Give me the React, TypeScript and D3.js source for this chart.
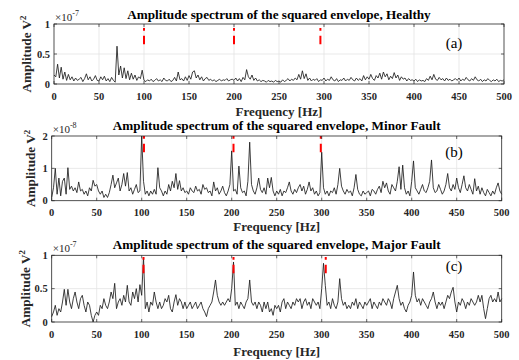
import React from "react";
import * as d3 from "d3";

// ---- data (frequency step 2 Hz, 0..500 Hz) ----
const FREQ_STEP = 2;
const xTickValues = [0, 50, 100, 150, 200, 250, 300, 350, 400, 450, 500];

const titles = [
  "Amplitude spectrum of the squared envelope, Healthy",
  "Amplitude spectrum of the squared envelope, Minor Fault",
  "Amplitude spectrum of the squared envelope, Major Fault",
];
const panelTags = ["(a)", "(b)", "(c)"];
const exponents = ["-7", "-8", "-7"];

const healthyTicks = [0, 0.5, 1];
const minorTicks = [0, 1, 2];
const majorTicks = [0, 0.5, 1];

// amplitude x 1e-7
const healthy = [
  0.15, 0.12, 0.33, 0.1, 0.28, 0.08, 0.2, 0.06, 0.16, 0.07, 0.12, 0.05, 0.1, 0.06, 0.08, 0.11, 0.04, 0.09, 0.17, 0.07, 0.12, 0.05, 0.08, 0.14, 0.06,
  0.05, 0.12, 0.07, 0.13, 0.05, 0.09, 0.04, 0.11, 0.06, 0.03, 0.63, 0.15, 0.3, 0.1, 0.27, 0.09, 0.22, 0.07, 0.18, 0.08, 0.15, 0.06, 0.12, 0.09, 0.23,
  0.06, 0.04, 0.07, 0.05, 0.08, 0.04, 0.06, 0.09, 0.05, 0.07, 0.04, 0.1, 0.06, 0.05, 0.08, 0.04, 0.06, 0.11, 0.05, 0.2, 0.07, 0.09, 0.05, 0.12, 0.06,
  0.14, 0.08, 0.2, 0.22, 0.1, 0.15, 0.07, 0.12, 0.05, 0.09, 0.11, 0.06, 0.08, 0.05, 0.07, 0.04, 0.06, 0.08, 0.05, 0.07, 0.06, 0.09, 0.05, 0.07, 0.08,
  0.06, 0.1, 0.05, 0.09, 0.04, 0.11, 0.07, 0.24, 0.12, 0.08, 0.15, 0.06, 0.1, 0.05, 0.07, 0.04, 0.06, 0.05, 0.03, 0.06, 0.04, 0.05, 0.03, 0.06, 0.04,
  0.05, 0.03, 0.07, 0.04, 0.06, 0.09, 0.05, 0.08, 0.06, 0.1, 0.07, 0.16, 0.08, 0.22, 0.09, 0.17, 0.06, 0.1, 0.05, 0.08, 0.06, 0.09, 0.04, 0.07, 0.06,
  0.1, 0.05, 0.08, 0.06, 0.12, 0.07, 0.05, 0.09, 0.04, 0.07, 0.06, 0.1, 0.05, 0.08, 0.06, 0.11, 0.07, 0.05, 0.1, 0.06, 0.09, 0.05, 0.14, 0.07, 0.12,
  0.08, 0.16, 0.09, 0.06, 0.14, 0.1, 0.18, 0.08, 0.2, 0.12, 0.17, 0.07, 0.13, 0.09, 0.19, 0.1, 0.15, 0.06, 0.12, 0.08, 0.1, 0.05, 0.09, 0.06, 0.07,
  0.05, 0.08, 0.04, 0.07, 0.05, 0.06, 0.04, 0.09, 0.06, 0.13, 0.07, 0.16, 0.08, 0.06, 0.11, 0.07, 0.09, 0.05, 0.1, 0.06, 0.08, 0.05, 0.07, 0.09, 0.06,
  0.1, 0.05, 0.08, 0.06, 0.11, 0.07, 0.05, 0.09, 0.06, 0.12, 0.07, 0.05, 0.08, 0.04, 0.07, 0.05, 0.09, 0.06, 0.04, 0.07, 0.05, 0.08, 0.04, 0.06, 0.05, 0.07,
];

// amplitude x 1e-8
const minorFault = [
  0.1, 0.4, 1.0, 0.2, 0.7, 0.15, 0.6, 0.7, 0.2, 1.02, 0.35, 0.45, 0.3, 0.4, 0.25, 0.58, 0.3, 0.35, 0.2, 0.3, 0.15, 0.4, 0.3, 0.63, 0.45,
  0.5, 0.3, 0.2, 0.3, 0.1, 0.2, 0.1, 0.25, 0.5, 0.79, 0.4, 0.55, 0.7, 0.3, 0.5, 0.84, 0.45, 0.87, 0.3, 0.4, 0.2, 0.35, 0.5, 0.25, 0.3,
  2.0, 0.6, 0.2, 0.3, 0.15, 0.3, 0.2, 0.35, 0.2, 1.02, 0.4, 0.3, 0.15, 0.3, 0.2, 0.5, 0.3, 0.6, 0.4, 0.84, 0.35, 0.62, 0.3, 0.4, 0.25,
  0.3, 0.2, 0.4, 0.3, 0.25, 0.45, 0.3, 0.35, 0.2, 0.5, 0.35, 0.4, 0.25, 0.3, 0.15, 0.58, 0.3, 0.4, 0.2, 0.3, 0.45, 0.25, 0.15, 0.3, 0.5,
  1.54, 0.3, 0.35, 0.2, 1.07, 0.4, 0.25, 0.3, 0.15, 0.6, 1.81, 0.5, 0.3, 0.2, 0.4, 0.7, 0.35, 0.25, 0.4, 0.2, 0.7, 0.4, 0.72, 0.3, 0.15,
  0.3, 0.2, 0.35, 0.15, 0.3, 0.25, 0.4, 0.58, 0.3, 0.2, 0.35, 0.25, 0.4, 0.5, 0.3, 0.45, 0.2, 0.35, 0.58, 0.3, 0.4, 0.2, 0.3, 0.15, 0.25,
  1.5, 0.4, 0.2, 0.3, 0.15, 0.3, 0.25, 0.4, 0.2, 0.5, 1.0, 0.45, 0.3, 0.2, 0.35, 0.25, 0.3, 0.15, 0.4, 0.81, 0.35, 0.2, 0.15, 0.3, 0.2,
  0.25, 0.3, 0.15, 0.35, 0.3, 0.2, 0.35, 0.45, 0.25, 0.6, 0.4, 0.55, 0.3, 0.2, 0.5, 0.4, 0.3, 0.6, 1.05, 0.35, 1.1, 0.4, 0.2, 0.3, 0.15,
  0.6, 1.23, 0.4, 0.3, 0.2, 0.35, 0.5, 0.3, 0.25, 0.4, 0.6, 1.26, 0.4, 0.25, 0.3, 0.5, 0.35, 0.2, 0.3, 0.5, 0.84, 0.4, 0.3, 0.5, 0.35,
  0.7, 0.4, 0.25, 0.5, 0.77, 0.4, 0.3, 0.5, 0.35, 0.2, 0.68, 0.3, 0.45, 0.2, 0.4, 0.25, 0.15, 0.35, 0.25, 0.15, 0.3, 0.2, 0.4, 0.55, 0.3, 0.2,
];

// amplitude x 1e-7
const majorFault = [
  0.08, 0.15, 0.25, 0.1, 0.2, 0.15, 0.3, 0.49, 0.25, 0.49, 0.3, 0.2, 0.35, 0.45, 0.3, 0.2, 0.35, 0.4, 0.25, 0.15, 0.3, 0.25, 0.1, 0.0, 0.1,
  0.15, 0.1, 0.25, 0.2, 0.35, 0.25, 0.2, 0.3, 0.45, 0.35, 0.58, 0.2, 0.3, 0.35, 0.25, 0.4, 0.3, 0.55, 0.3, 0.25, 0.45, 0.35, 0.5, 0.3, 0.56,
  0.4, 0.97, 0.2, 0.3, 0.15, 0.3, 0.25, 0.45, 0.3, 0.2, 0.3, 0.2, 0.25, 0.35, 0.3, 0.4, 0.2, 0.15, 0.3, 0.41, 0.25, 0.35, 0.3, 0.2, 0.3,
  0.2, 0.25, 0.3, 0.2, 0.25, 0.3, 0.2, 0.25, 0.3, 0.2, 0.15, 0.08, 0.2, 0.25, 0.3, 0.45, 0.63, 0.4, 0.3, 0.25, 0.3, 0.25, 0.3, 0.35, 0.3,
  0.5, 0.9, 0.25, 0.3, 0.2, 0.3, 0.25, 0.2, 0.3, 0.35, 0.63, 0.3, 0.25, 0.3, 0.2, 0.3, 0.25, 0.15, 0.3, 0.2, 0.3, 0.15, 0.2, 0.1, 0.25,
  0.2, 0.25, 0.15, 0.3, 0.35, 0.2, 0.3, 0.25, 0.2, 0.3, 0.25, 0.35, 0.3, 0.35, 0.2, 0.3, 0.35, 0.25, 0.3, 0.2, 0.35, 0.3, 0.25, 0.3, 0.2,
  0.5, 0.88, 0.55, 0.25, 0.3, 0.2, 0.35, 0.25, 0.2, 0.3, 0.65, 0.35, 0.25, 0.3, 0.2, 0.25, 0.2, 0.3, 0.25, 0.35, 0.2, 0.3, 0.25, 0.2, 0.3,
  0.25, 0.3, 0.35, 0.2, 0.3, 0.25, 0.2, 0.3, 0.25, 0.35, 0.3, 0.25, 0.35, 0.3, 0.2, 0.35, 0.45, 0.55, 0.35, 0.25, 0.3, 0.2, 0.15, 0.25, 0.3,
  0.4, 0.75, 0.4, 0.3, 0.35, 0.25, 0.35, 0.3, 0.25, 0.2, 0.3, 0.35, 0.45, 0.3, 0.2, 0.3, 0.25, 0.3, 0.2, 0.3, 0.4, 0.35, 0.45, 0.52, 0.3,
  0.15, 0.3, 0.25, 0.35, 0.3, 0.2, 0.3, 0.25, 0.35, 0.3, 0.25, 0.3, 0.4, 0.3, 0.4, 0.2, 0.05, 0.2, 0.35, 0.4, 0.3, 0.35, 0.3, 0.45, 0.3, 0.35,
];

// fault characteristic frequency markers (Hz)
const healthyMarkers = [100, 200, 296];
const minorMarkers = [102.5, 202, 299];
const majorMarkers = [102, 202, 304.5];

// ---- layout ----
const W = 519;
const H = 360;
const SERIF = "'Liberation Serif', 'Times New Roman', serif";

type PanelLayout = {
  left: number; right: number; top: number; bottom: number;
  titleY: number; tickLabelY: number; xLabelY: number; yLabelX: number;
  tagY: number; dashOffset: number;
};

const layouts: PanelLayout[] = [
  { left: 54, right: 504, top: 24, bottom: 84, titleY: 18.5, tickLabelY: 99.5, xLabelY: 115.6, yLabelX: 31, tagY: 48, dashOffset: -4 },
  { left: 51.7, right: 501.7, top: 136, bottom: 200.7, titleY: 129.6, tickLabelY: 216.2, xLabelY: 230.6, yLabelX: 35, tagY: 157, dashOffset: 0 },
  { left: 51.7, right: 501.7, top: 255.3, bottom: 322, titleY: 248.5, tickLabelY: 338, xLabelY: 356, yLabelX: 30, tagY: 271, dashOffset: -1.7 },
];

function fmt(v: number) {
  return String(v);
}

function Panel({ layout, values, yMax, yTicks, markers, title, tag, exponent }: {
  layout: PanelLayout; values: number[]; yMax: number; yTicks: number[]; markers: number[];
  title: string; tag: string; exponent: string;
}) {
  const x = d3.scaleLinear().domain([0, 500]).range([layout.left, layout.right]);
  const y = d3.scaleLinear().domain([0, yMax]).range([layout.bottom, layout.top]);
  const line = d3.line<number>().x((_, i) => x(i * FREQ_STEP)).y((d) => y(d));
  const cx = (layout.left + layout.right) / 2;
  const cy = (layout.top + layout.bottom) / 2;
  const axisColor = "#262626";
  return (
    <g>
      <rect x={layout.left} y={layout.top} width={layout.right - layout.left} height={layout.bottom - layout.top} fill="#fff" />
      {xTickValues.slice(1, -1).map((t) => (
        <line key={"gx" + t} x1={x(t)} x2={x(t)} y1={layout.top} y2={layout.bottom} stroke="#e3e3e3" strokeWidth={0.8} />
      ))}
      {yTicks.slice(1, -1).map((t) => (
        <line key={"gy" + t} x1={layout.left} x2={layout.right} y1={y(t)} y2={y(t)} stroke="#e3e3e3" strokeWidth={0.8} />
      ))}
      <path d={line(values) || ""} fill="none" stroke="#1e1e1e" strokeWidth={0.85} strokeLinejoin="round" />
      {markers.map((m) => (
        <line key={"m" + m} x1={x(m)} x2={x(m)} y1={layout.top} y2={layout.top + 22}
          stroke="#ff0000" strokeWidth={2} strokeDasharray="2.8,5,8.5,20" strokeDashoffset={layout.dashOffset} />
      ))}
      <rect x={layout.left} y={layout.top} width={layout.right - layout.left} height={layout.bottom - layout.top}
        fill="none" stroke={axisColor} strokeWidth={0.8} />
      {xTickValues.map((t) => (
        <g key={"tx" + t}>
          <line x1={x(t)} x2={x(t)} y1={layout.bottom} y2={layout.bottom - 3} stroke={axisColor} strokeWidth={0.7} />
          <line x1={x(t)} x2={x(t)} y1={layout.top} y2={layout.top + 3} stroke={axisColor} strokeWidth={0.7} />
          <text x={x(t)} y={layout.tickLabelY} textAnchor="middle" fontFamily={SERIF} fontWeight="bold" fontSize={10.5} fill="#262626">
            {fmt(t)}
          </text>
        </g>
      ))}
      {yTicks.map((t) => (
        <g key={"ty" + t}>
          <line x1={layout.left} x2={layout.left + 3} y1={y(t)} y2={y(t)} stroke={axisColor} strokeWidth={0.7} />
          <line x1={layout.right} x2={layout.right - 3} y1={y(t)} y2={y(t)} stroke={axisColor} strokeWidth={0.7} />
          <text x={layout.left - 4} y={y(t)} dy="0.35em" textAnchor="end" fontFamily={SERIF} fontWeight="bold" fontSize={10.5} fill="#262626">
            {fmt(t)}
          </text>
        </g>
      ))}
      <text x={layout.left + 1} y={layout.top - 3.5} fontFamily={SERIF} fontSize={11} fill="#262626">
        ×10<tspan dy={-4.5} fontSize={8}>{exponent}</tspan>
      </text>
      <text x={cx} y={layout.titleY} textAnchor="middle" fontFamily={SERIF} fontWeight="bold" fontSize={13.2} fill="#000">
        {title}
      </text>
      <text x={cx} y={layout.xLabelY} textAnchor="middle" fontFamily={SERIF} fontWeight="bold" fontSize={13} fill="#262626">
        Frequency [Hz]
      </text>
      <text transform={`translate(${layout.yLabelX},${cy}) rotate(-90)`} textAnchor="middle" fontFamily={SERIF} fontWeight="bold" fontSize={13.2} fill="#262626">
        Amplitude V<tspan dy={-5} fontSize={9}>2</tspan>
      </text>
      <text x={454} y={layout.tagY} textAnchor="middle" fontFamily={SERIF} fontSize={15} fill="#000">
        {tag}
      </text>
    </g>
  );
}

export default function App() {
  const series = [healthy, minorFault, majorFault];
  const maxes = [1, 2, 1];
  const ticks = [healthyTicks, minorTicks, majorTicks];
  const markers = [healthyMarkers, minorMarkers, majorMarkers];
  return (
    <svg width={W} height={H} style={{ position: "absolute", left: 0, top: 0, background: "#fff" }}>
      <rect width={W} height={H} fill="#fff" />
      {layouts.map((l, i) => (
        <Panel key={i} layout={l} values={series[i]} yMax={maxes[i]} yTicks={ticks[i]} markers={markers[i]}
          title={titles[i]} tag={panelTags[i]} exponent={exponents[i]} />
      ))}
    </svg>
  );
}
